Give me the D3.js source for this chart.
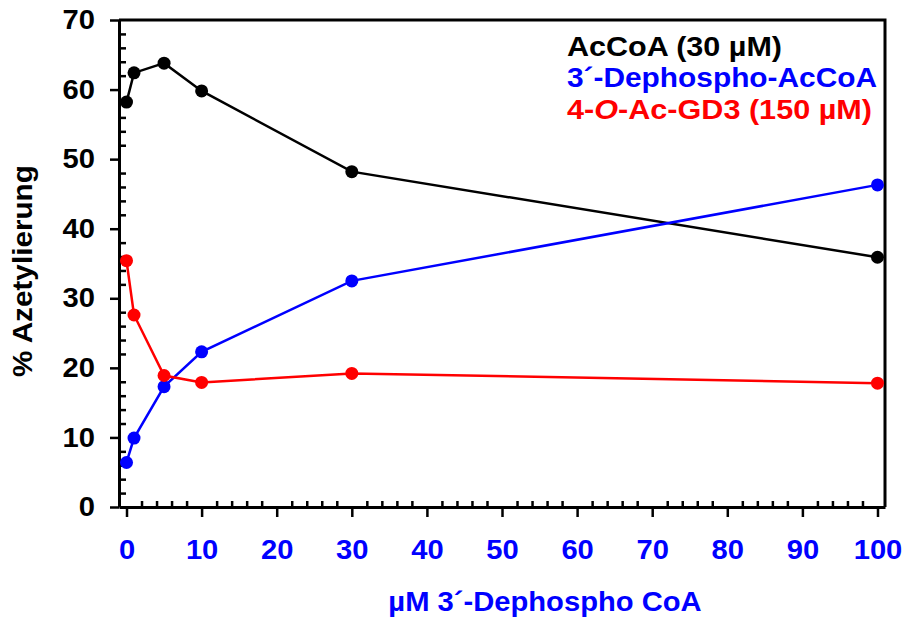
<!DOCTYPE html>
<html>
<head>
<meta charset="utf-8">
<script src="https://cdn.jsdelivr.net/npm/d3@7"></script>
<style>
  body { margin: 0; background: #fff; }
  svg text { font-family: "Liberation Sans", Arial, sans-serif; font-weight: bold; }
</style>
</head>
<body>
<div id="chart"></div>
<script>
// data
const conc = [0, 1, 5, 10, 30, 100]; // µM 3'-Dephospho CoA
const acCoA = [58.2, 62.4, 63.8, 59.8, 48.2, 35.9];
const dephosphoAcCoA = [6.4, 9.9, 17.3, 22.3, 32.5, 46.3];
const acGD3 = [35.4, 27.6, 18.9, 17.9, 19.2, 17.8];
const xTicks = [0, 10, 20, 30, 40, 50, 60, 70, 80, 90, 100];
const yTicks = [0, 10, 20, 30, 40, 50, 60, 70];

const width = 906, height = 617;
const frame = {left: 119, right: 885, top: 20, bottom: 507};

const series = [
    {name: "AcCoA", values: acCoA, color: "#000000"},
    {name: "3´-Dephospho-AcCoA", values: dephosphoAcCoA, color: "#0000ff"},
    {name: "4-O-Ac-GD3", values: acGD3, color: "#ff0000"}
];

const svg = d3.select("#chart")
    .append("svg")
    .attr("width", width)
    .attr("height", height);

const x = d3.scaleLinear()
    .domain([-1, 101])
    .range([frame.left, frame.right]);

const y = d3.scaleLinear()
    .domain([0, 70])
    .range([frame.bottom, frame.top]);

const xMinor = d3.range(2, 100, 2).filter(d => d % 10 !== 0);
const yMinor = d3.range(2, 70, 2).filter(d => d % 10 !== 0);

// the original font is a bit wider than Arial, stretch texts a little
function widen(sel, k) {
    sel.each(function() {
        const len = this.getComputedTextLength();
        d3.select(this)
            .attr("textLength", len * k)
            .attr("lengthAdjust", "spacingAndGlyphs");
    });
}

// frame top and right
svg.append("path")
    .attr("d", `M${frame.left},${frame.top}H${frame.right}V${frame.bottom}`)
    .attr("fill", "none")
    .attr("stroke", "#000")
    .attr("stroke-width", 3);

// x axis
const xAxis = svg.append("g")
    .attr("transform", `translate(0,${frame.bottom})`)
    .call(d3.axisBottom(x).tickValues(xTicks).tickSize(10).tickPadding(23).tickSizeOuter(0));
xAxis.selectAll("text").attr("fill", "#0000ff").attr("font-size", 27);

svg.append("g")
    .attr("transform", `translate(0,${frame.bottom})`)
    .call(d3.axisTop(x).tickValues(xMinor).tickSize(6).tickFormat("").tickSizeOuter(0))
    .call(g => g.select(".domain").remove());

// y axis
const yAxis = svg.append("g")
    .attr("transform", `translate(${frame.left},0)`)
    .call(d3.axisLeft(y).tickValues(yTicks).tickSize(9).tickPadding(15).tickSizeOuter(0));
yAxis.selectAll("text").attr("fill", "#000").attr("font-size", 27);

svg.append("g")
    .attr("transform", `translate(${frame.left},0)`)
    .call(d3.axisRight(y).tickValues(yMinor).tickSize(7).tickFormat("").tickSizeOuter(0))
    .call(g => g.select(".domain").remove());

svg.selectAll(".domain").attr("stroke-width", 3);
svg.selectAll(".tick line").attr("stroke-width", 2.5);

widen(xAxis.selectAll("text"), 1.08);
widen(yAxis.selectAll("text"), 1.08);

// axis titles
const xTitle = svg.append("text")
    .attr("x", 545)
    .attr("y", 611)
    .attr("text-anchor", "middle")
    .attr("font-size", 27)
    .attr("fill", "#0000ff")
    .text("µM 3´-Dephospho CoA");

const yTitle = svg.append("text")
    .attr("transform", "translate(32,271) rotate(-90)")
    .attr("text-anchor", "middle")
    .attr("font-size", 27)
    .attr("fill", "#000")
    .text("% Azetylierung");

widen(xTitle, 1.08);
widen(yTitle, 1.1);

// lines and markers
const line = d3.line()
    .x((d, i) => x(conc[i]))
    .y(d => y(d));

series.forEach(s => {
    const g = svg.append("g");
    g.append("path")
        .datum(s.values)
        .attr("d", line)
        .attr("fill", "none")
        .attr("stroke", s.color)
        .attr("stroke-width", 2.5);
    g.selectAll("circle")
        .data(s.values)
        .join("circle")
        .attr("cx", (d, i) => x(conc[i]))
        .attr("cy", d => y(d))
        .attr("r", 6.5)
        .attr("fill", s.color);
});

// legend
const legend = svg.append("g").attr("font-size", 27);
const l1 = legend.append("text").attr("x", 567).attr("y", 56).attr("fill", "#000").text("AcCoA (30 µM)");
const l2 = legend.append("text").attr("x", 567).attr("y", 87).attr("fill", "#0000ff").text("3´-Dephospho-AcCoA");
const l3 = legend.append("text").attr("x", 567).attr("y", 119).attr("fill", "#ff0000");
l3.append("tspan").text("4-");
l3.append("tspan").attr("font-style", "italic").text("O");
l3.append("tspan").text("-Ac-GD3 (150 µM)");

l1.attr("textLength", 215).attr("lengthAdjust", "spacingAndGlyphs");
l2.attr("textLength", 310).attr("lengthAdjust", "spacingAndGlyphs");
l3.attr("textLength", 305).attr("lengthAdjust", "spacingAndGlyphs");
</script>
</body>
</html>
